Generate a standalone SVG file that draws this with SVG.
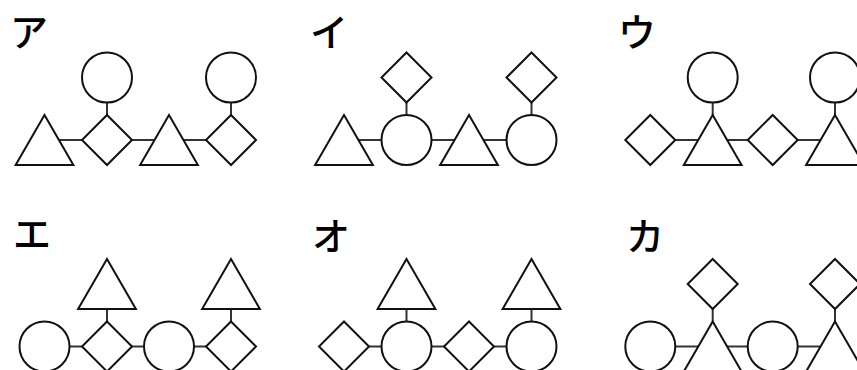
<svg xmlns="http://www.w3.org/2000/svg" xmlns:xlink="http://www.w3.org/1999/xlink" width="857" height="370" viewBox="0 0 857 370">
  <style>
    .s { fill: #fff; stroke: #111; stroke-width: 2; }
    .c line { stroke: #333; stroke-width: 2; }
    .lbl { font-family: "Noto Sans CJK JP", "Noto Sans CJK SC", sans-serif; font-size: 38px; font-weight: 500; fill: #000; }
  </style>
  <defs>
    <polygon id="tri" points="0,-25 28.87,25 -28.87,25"/>
    <polygon id="dia" points="0,-25 25,0 0,25 -25,0"/>
    <circle id="cir" cx="0" cy="0" r="25"/>
  </defs>
  <rect width="857" height="370" fill="#fff"/>

  <!-- connectors -->
  <g id="connectors" class="c">
    <!-- ア -->
    <line x1="58.93" y1="140" x2="82" y2="140"/>
    <line x1="132" y1="140" x2="154.57" y2="140"/>
    <line x1="183.43" y1="140" x2="206" y2="140"/>
    <line x1="107" y1="102.5" x2="107" y2="115"/>
    <line x1="231" y1="102.5" x2="231" y2="115"/>
    <!-- イ -->
    <line x1="358.43" y1="140" x2="381.5" y2="140"/>
    <line x1="431.5" y1="140" x2="454.57" y2="140"/>
    <line x1="483.43" y1="140" x2="506.5" y2="140"/>
    <line x1="406.5" y1="102.5" x2="406.5" y2="115"/>
    <line x1="531.5" y1="102.5" x2="531.5" y2="115"/>
    <!-- ウ -->
    <line x1="675.3" y1="140" x2="698.27" y2="140"/>
    <line x1="727.13" y1="140" x2="747.7" y2="140"/>
    <line x1="797.7" y1="140" x2="820.57" y2="140"/>
    <line x1="712.7" y1="102.5" x2="712.7" y2="115"/>
    <line x1="835" y1="102.5" x2="835" y2="115"/>
    <!-- エ -->
    <line x1="69.5" y1="346.5" x2="82" y2="346.5"/>
    <line x1="132" y1="346.5" x2="144" y2="346.5"/>
    <line x1="194" y1="346.5" x2="206" y2="346.5"/>
    <line x1="107" y1="309" x2="107" y2="321.5"/>
    <line x1="231" y1="309" x2="231" y2="321.5"/>
    <!-- オ -->
    <line x1="369" y1="346.5" x2="381.5" y2="346.5"/>
    <line x1="431.5" y1="346.5" x2="444" y2="346.5"/>
    <line x1="494" y1="346.5" x2="506.5" y2="346.5"/>
    <line x1="406.5" y1="309" x2="406.5" y2="321.5"/>
    <line x1="531.5" y1="309" x2="531.5" y2="321.5"/>
    <!-- カ -->
    <line x1="675.3" y1="346.5" x2="698.27" y2="346.5"/>
    <line x1="727.13" y1="346.5" x2="747.7" y2="346.5"/>
    <line x1="797.7" y1="346.5" x2="820.57" y2="346.5"/>
    <line x1="712.7" y1="309" x2="712.7" y2="321.5"/>
    <line x1="835" y1="309" x2="835" y2="321.5"/>
  </g>

  <!-- Panel ア -->
  <g id="panel-a">
    <text class="lbl" x="10" y="46">ア</text>
    <use id="a1" class="s" href="#tri" x="44.5" y="140"/>
    <use id="a2" class="s" href="#dia" x="107" y="140"/>
    <use id="a3" class="s" href="#tri" x="169" y="140"/>
    <use id="a4" class="s" href="#dia" x="231" y="140"/>
    <use id="a5" class="s" href="#cir" x="107" y="77.5"/>
    <use id="a6" class="s" href="#cir" x="231" y="77.5"/>
  </g>

  <!-- Panel イ -->
  <g id="panel-i">
    <text class="lbl" x="310" y="46">イ</text>
    <use id="i1" class="s" href="#tri" x="344" y="140"/>
    <use id="i2" class="s" href="#cir" x="406.5" y="140"/>
    <use id="i3" class="s" href="#tri" x="469" y="140"/>
    <use id="i4" class="s" href="#cir" x="531.5" y="140"/>
    <use id="i5" class="s" href="#dia" x="406.5" y="77.5"/>
    <use id="i6" class="s" href="#dia" x="531.5" y="77.5"/>
  </g>

  <!-- Panel ウ -->
  <g id="panel-u">
    <text class="lbl" x="618" y="46">ウ</text>
    <use id="u1" class="s" href="#dia" x="650.3" y="140"/>
    <use id="u2" class="s" href="#tri" x="712.7" y="140"/>
    <use id="u3" class="s" href="#dia" x="772.7" y="140"/>
    <use id="u4" class="s" href="#tri" x="835" y="140"/>
    <use id="u5" class="s" href="#cir" x="712.7" y="77.5"/>
    <use id="u6" class="s" href="#cir" x="835" y="77.5"/>
  </g>

  <!-- Panel エ -->
  <g id="panel-e">
    <text class="lbl" x="13" y="248">エ</text>
    <use id="e1" class="s" href="#cir" x="44.5" y="346.5"/>
    <use id="e2" class="s" href="#dia" x="107" y="346.5"/>
    <use id="e3" class="s" href="#cir" x="169" y="346.5"/>
    <use id="e4" class="s" href="#dia" x="231" y="346.5"/>
    <use id="e5" class="s" href="#tri" x="107" y="284"/>
    <use id="e6" class="s" href="#tri" x="231" y="284"/>
  </g>

  <!-- Panel オ -->
  <g id="panel-o">
    <text class="lbl" x="312" y="250">オ</text>
    <use id="o1" class="s" href="#dia" x="344" y="346.5"/>
    <use id="o2" class="s" href="#cir" x="406.5" y="346.5"/>
    <use id="o3" class="s" href="#dia" x="469" y="346.5"/>
    <use id="o4" class="s" href="#cir" x="531.5" y="346.5"/>
    <use id="o5" class="s" href="#tri" x="406.5" y="284"/>
    <use id="o6" class="s" href="#tri" x="531.5" y="284"/>
  </g>

  <!-- Panel カ -->
  <g id="panel-ka">
    <text class="lbl" x="626" y="250">カ</text>
    <use id="k1" class="s" href="#cir" x="650.3" y="346.5"/>
    <use id="k2" class="s" href="#tri" x="712.7" y="346.5"/>
    <use id="k3" class="s" href="#cir" x="772.7" y="346.5"/>
    <use id="k4" class="s" href="#tri" x="835" y="346.5"/>
    <use id="k5" class="s" href="#dia" x="712.7" y="284"/>
    <use id="k6" class="s" href="#dia" x="835" y="284"/>
  </g>
</svg>
